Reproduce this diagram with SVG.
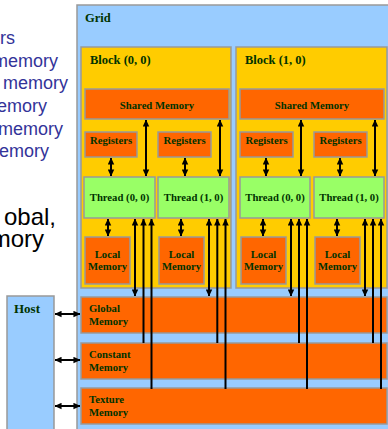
<svg xmlns="http://www.w3.org/2000/svg" width="388" height="429" viewBox="0 0 388 429">
<style>
.bx{stroke:#999999;stroke-width:1.5}
.grid{fill:#99CCFF}
.blk{fill:#FFCC00}
.org{fill:#FF6600}
.thr{fill:#99FF66}
.t{font-family:"Liberation Serif","Times New Roman",serif;font-weight:bold;fill:#003300;font-size:10.7px}
.tt{font-size:12.5px}
.c{text-anchor:middle}
.side{font-family:"Liberation Sans",Arial,sans-serif;fill:#333399;font-size:18px;text-anchor:end}
.side2{font-family:"Liberation Sans",Arial,sans-serif;fill:#000000;font-size:24px;text-anchor:end}
.ln{stroke:#000;stroke-width:2;fill:none}
</style>
<defs>
<marker id="ah" viewBox="0 0 8 8" refX="7.5" refY="4" markerWidth="7" markerHeight="7" markerUnits="userSpaceOnUse" orient="auto-start-reverse">
<path d="M0,0.3 L8,4 L0,7.7 z" fill="#000"/>
</marker>
</defs>
<rect width="388" height="429" fill="#ffffff"/>
<g id="notes">
<text class="side" x="15" y="44">rs</text>
<text class="side" x="58" y="67">memory</text>
<text class="side" x="68" y="89">memory</text>
<text class="side" x="47" y="112">emory</text>
<text class="side" x="63" y="135">memory</text>
<text class="side" x="49" y="157">emory</text>
<text class="side2" x="56" y="225">obal,</text>
<text class="side2" x="44" y="247">mory</text>
</g>
<g id="grid">
<rect class="bx grid" x="77" y="5" width="320" height="430"/>
<text class="t tt" x="85" y="22">Grid</text>
</g>
<g id="host">
<rect class="bx grid" x="7" y="296" width="47" height="140"/>
<text class="t" style="font-size:13px" x="14" y="313">Host</text>
</g>
<g id="block00">
<rect class="bx blk" x="81" y="47" width="150" height="241"/>
<text class="t tt" x="90" y="64">Block (0, 0)</text>
</g>
<g id="block10">
<rect class="bx blk" x="236" y="47" width="151" height="241"/>
<text class="t tt" x="245" y="64">Block (1, 0)</text>
</g>
<g id="shared00"><rect class="bx org" x="85" y="89" width="144" height="30"/><text class="t c" x="157" y="109">Shared Memory</text></g>
<g id="shared10"><rect class="bx org" x="240" y="89" width="144" height="30"/><text class="t c" x="312" y="109">Shared Memory</text></g>
<g id="reg00_0"><rect class="bx org" x="85" y="132" width="52" height="25"/><text class="t c" x="111" y="144">Registers</text></g>
<g id="reg00_1"><rect class="bx org" x="158" y="132" width="53" height="25"/><text class="t c" x="184.5" y="144">Registers</text></g>
<g id="reg10_0"><rect class="bx org" x="240" y="132" width="53" height="25"/><text class="t c" x="266.5" y="144">Registers</text></g>
<g id="reg10_1"><rect class="bx org" x="314" y="132" width="53" height="25"/><text class="t c" x="340.5" y="144">Registers</text></g>
<g id="thr00_0"><rect class="bx thr" x="84" y="177" width="71" height="41"/><text class="t c" x="119.5" y="201">Thread (0, 0)</text></g>
<g id="thr00_1"><rect class="bx thr" x="158" y="177" width="71" height="41"/><text class="t c" x="193.5" y="201">Thread (1, 0)</text></g>
<g id="thr10_0"><rect class="bx thr" x="240" y="177" width="70" height="41"/><text class="t c" x="275" y="201">Thread (0, 0)</text></g>
<g id="thr10_1"><rect class="bx thr" x="314" y="177" width="70" height="41"/><text class="t c" x="349" y="201">Thread (1, 0)</text></g>
<g id="loc00_0"><rect class="bx org" x="85" y="237" width="45" height="47"/><text class="t c" x="107.5" y="258">Local</text><text class="t c" x="107.5" y="270">Memory</text></g>
<g id="loc00_1"><rect class="bx org" x="159" y="237" width="45" height="47"/><text class="t c" x="181.5" y="258">Local</text><text class="t c" x="181.5" y="270">Memory</text></g>
<g id="loc10_0"><rect class="bx org" x="241" y="237" width="45" height="47"/><text class="t c" x="263.5" y="258">Local</text><text class="t c" x="263.5" y="270">Memory</text></g>
<g id="loc10_1"><rect class="bx org" x="315" y="237" width="45" height="47"/><text class="t c" x="337.5" y="258">Local</text><text class="t c" x="337.5" y="270">Memory</text></g>
<g id="global"><rect class="bx org" x="81" y="297" width="306" height="36"/><text class="t" x="89" y="312">Global</text><text class="t" x="89" y="325">Memory</text></g>
<g id="constant"><rect class="bx org" x="81" y="343" width="306" height="36"/><text class="t" x="89" y="358">Constant</text><text class="t" x="89" y="371">Memory</text></g>
<g id="texture"><rect class="bx org" x="81" y="388" width="306" height="36"/><text class="t" x="89" y="403">Texture</text><text class="t" x="89" y="416">Memory</text></g>
<g id="connectors">
<path class="ln" d="M146,120 V176" marker-start="url(#ah)" marker-end="url(#ah)"/>
<path class="ln" d="M220,120 V176" marker-start="url(#ah)" marker-end="url(#ah)"/>
<path class="ln" d="M301,120 V176" marker-start="url(#ah)" marker-end="url(#ah)"/>
<path class="ln" d="M375,120 V176" marker-start="url(#ah)" marker-end="url(#ah)"/>
<path class="ln" d="M111,158 V176" marker-start="url(#ah)" marker-end="url(#ah)"/>
<path class="ln" d="M185,158 V176" marker-start="url(#ah)" marker-end="url(#ah)"/>
<path class="ln" d="M266,158 V176" marker-start="url(#ah)" marker-end="url(#ah)"/>
<path class="ln" d="M340,158 V176" marker-start="url(#ah)" marker-end="url(#ah)"/>
<path class="ln" d="M108,219 V236" marker-start="url(#ah)" marker-end="url(#ah)"/>
<path class="ln" d="M181,219 V236" marker-start="url(#ah)" marker-end="url(#ah)"/>
<path class="ln" d="M263,219 V236" marker-start="url(#ah)" marker-end="url(#ah)"/>
<path class="ln" d="M337,219 V236" marker-start="url(#ah)" marker-end="url(#ah)"/>
<path class="ln" d="M135,219 V296" marker-start="url(#ah)" marker-end="url(#ah)"/>
<path class="ln" d="M143.5,343 V219" marker-end="url(#ah)"/>
<path class="ln" d="M151.5,389 V219" marker-end="url(#ah)"/>
<path class="ln" d="M209,219 V296" marker-start="url(#ah)" marker-end="url(#ah)"/>
<path class="ln" d="M217.3,343 V219" marker-end="url(#ah)"/>
<path class="ln" d="M225.5,389 V219" marker-end="url(#ah)"/>
<path class="ln" d="M291,219 V296" marker-start="url(#ah)" marker-end="url(#ah)"/>
<path class="ln" d="M299,343 V219" marker-end="url(#ah)"/>
<path class="ln" d="M307,389 V219" marker-end="url(#ah)"/>
<path class="ln" d="M365,219 V296" marker-start="url(#ah)" marker-end="url(#ah)"/>
<path class="ln" d="M373,343 V219" marker-end="url(#ah)"/>
<path class="ln" d="M381,389 V219" marker-end="url(#ah)"/>
<path class="ln" d="M55,314 H80" marker-start="url(#ah)" marker-end="url(#ah)"/>
<path class="ln" d="M55,360 H80" marker-start="url(#ah)" marker-end="url(#ah)"/>
<path class="ln" d="M55,406 H80" marker-start="url(#ah)" marker-end="url(#ah)"/>
</g>
</svg>
